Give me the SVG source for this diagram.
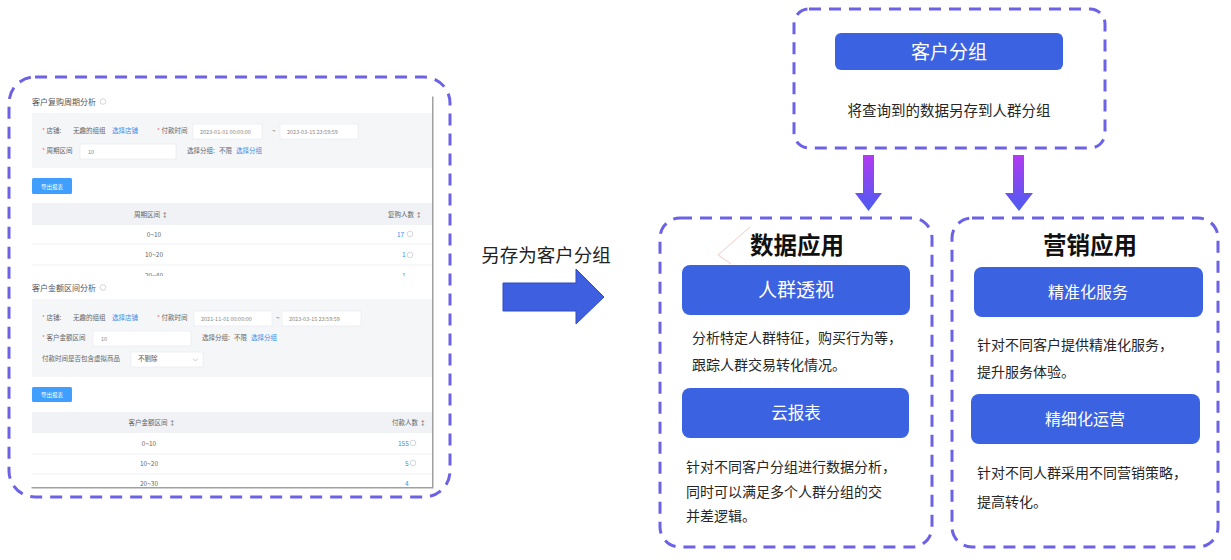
<svg xmlns="http://www.w3.org/2000/svg" width="1231" height="560" viewBox="0 0 1231 560">
<style>
.dash{fill:none;stroke:#6c62e6;stroke-width:3;stroke-dasharray:12 8;}
.btn{fill:#3b62e0;}
.btxt{fill:#ffffff;font-family:"Noto Sans CJK SC","Noto Sans",sans-serif;text-anchor:middle;}
.desc{fill:#262626;font-family:"Noto Sans CJK SC","Noto Sans",sans-serif;font-size:14px;}
.ttl{fill:#111;font-family:"Noto Sans CJK SC","Noto Sans",sans-serif;font-size:23.5px;font-weight:bold;text-anchor:middle;}
.s{font-family:"Noto Sans CJK SC","Noto Sans",sans-serif;font-size:6.5px;fill:#666;}
.sh{font-family:"Noto Sans CJK SC","Noto Sans",sans-serif;font-size:8px;fill:#555;}
.sb{fill:#3a8ee6;}
.sr{fill:#f56c6c;}
.si{font-size:5.5px;fill:#888;}
.m{text-anchor:middle;}
.inp{fill:#fff;stroke:#e4e7ed;stroke-width:0.6;}
.pan{fill:#f5f6f8;}
.hdr{fill:#f0f2f5;}
.ln{stroke:#ebeef5;stroke-width:0.8;}
.ic{fill:none;stroke:#c0c4cc;stroke-width:0.7;}
.ebtn{fill:#409eff;}
</style>
<defs>
<linearGradient id="dg" x1="0" y1="0" x2="0" y2="1">
<stop offset="0" stop-color="#b23af2"/>
<stop offset="1" stop-color="#4a5cf0"/>
</linearGradient>
<clipPath id="c1"><rect x="30" y="95" width="402" height="181"/></clipPath>
<clipPath id="c2"><rect x="30" y="276" width="402" height="211"/></clipPath>
</defs>

<g id="screenshot-panel">
<rect class="dash" x="9" y="77" width="441" height="420" rx="26"/>
<rect x="31.5" y="96.5" width="402" height="392" fill="#a0a0a0"/>
<rect x="30" y="95" width="402" height="392" fill="#ffffff"/>
<g clip-path="url(#c1)">
<text class="sh" x="32" y="104.5">客户复购周期分析</text>
<circle class="ic" cx="103" cy="101.5" r="2.8"/>
<rect class="pan" x="32" y="113" width="400" height="55"/>
<text class="s" x="42" y="133"><tspan class="sr">*</tspan> 店铺:</text>
<text class="s" x="73" y="133">无趣的组组</text>
<text class="s sb" x="112" y="133">选择店铺</text>
<text class="s" x="157" y="133"><tspan class="sr">*</tspan> 付款时间</text>
<rect class="inp" x="193" y="124" width="69" height="15"/>
<text class="s si" x="200" y="133.5">2023-01-01 00:00:00</text>
<text class="s" x="272" y="133">~</text>
<rect class="inp" x="280" y="124" width="78" height="15"/>
<text class="s si" x="287" y="133.5">2023-03-15 23:59:59</text>
<text class="s" x="42" y="153"><tspan class="sr">*</tspan> 周期区间</text>
<rect class="inp" x="80" y="144" width="96" height="15"/>
<text class="s si" x="88" y="153.5">10</text>
<text class="s" x="187" y="153">选择分组:</text>
<text class="s" x="219" y="153">不限</text>
<text class="s sb" x="236" y="153">选择分组</text>
<rect class="ebtn" x="32" y="178" width="40" height="16" rx="1.5"/>
<text class="s m" x="52" y="188.5" style="fill:#fff;font-size:5.5px">导出报表</text>
<rect class="hdr" x="32" y="203" width="400" height="22"/>
<text class="s m" x="151" y="216.5">周期区间 ↕</text>
<text class="s" x="388" y="216.5">复购人数 ↕</text>
<line class="ln" x1="32" y1="244" x2="432" y2="244"/>
<line class="ln" x1="32" y1="265" x2="432" y2="265"/>
<text class="s m" x="154" y="236.5">0~10</text>
<text class="s sb" x="397" y="236.5">17</text>
<circle class="ic" cx="410" cy="234" r="2.8"/>
<text class="s m" x="154" y="257">10~20</text>
<text class="s sb" x="402" y="257">1</text>
<circle class="ic" cx="410" cy="255" r="2.8"/>
<text class="s m" x="154" y="277.5">20~40</text>
<text class="s sb" x="402" y="277.5">1</text>
</g>
<g clip-path="url(#c2)">
<text class="sh" x="32" y="290.5">客户金额区间分析</text>
<circle class="ic" cx="103" cy="287.5" r="2.8"/>
<rect class="pan" x="32" y="299" width="400" height="78"/>
<text class="s" x="42" y="320"><tspan class="sr">*</tspan> 店铺:</text>
<text class="s" x="73" y="320">无趣的组组</text>
<text class="s sb" x="112" y="320">选择店铺</text>
<text class="s" x="157" y="320"><tspan class="sr">*</tspan> 付款时间</text>
<rect class="inp" x="194" y="311" width="78" height="15"/>
<text class="s si" x="201" y="320.5">2021-11-01 00:00:00</text>
<text class="s" x="276" y="320">~</text>
<rect class="inp" x="282" y="311" width="79" height="15"/>
<text class="s si" x="289" y="320.5">2023-03-15 23:59:59</text>
<text class="s" x="42" y="340"><tspan class="sr">*</tspan> 客户金额区间</text>
<rect class="inp" x="93" y="331" width="98" height="15"/>
<text class="s si" x="101" y="340.5">10</text>
<text class="s" x="202" y="340">选择分组:</text>
<text class="s" x="234" y="340">不限</text>
<text class="s sb" x="251" y="340">选择分组</text>
<text class="s" x="42" y="361">付款时间是否包含虚拟商品</text>
<rect class="inp" x="131" y="352" width="72" height="15"/>
<text class="s" x="138" y="361" style="fill:#555">不剔除</text>
<polyline points="193,358.5 195.5,361 198,358.5" fill="none" stroke="#aaa" stroke-width="0.6"/>
<rect class="ebtn" x="32" y="387" width="40" height="15" rx="1.5"/>
<text class="s m" x="52" y="397" style="fill:#fff;font-size:5.5px">导出报表</text>
<rect class="hdr" x="32" y="412" width="400" height="21"/>
<text class="s m" x="152" y="425">客户金额区间 ↕</text>
<text class="s" x="392" y="425">付款人数 ↕</text>
<line class="ln" x1="32" y1="454" x2="432" y2="454"/>
<line class="ln" x1="32" y1="474" x2="432" y2="474"/>
<text class="s m" x="149" y="445.5">0~10</text>
<text class="s sb" x="398" y="445.5">155</text>
<circle class="ic" cx="413" cy="443" r="2.8"/>
<text class="s m" x="149" y="465.5">10~20</text>
<text class="s sb" x="405" y="465.5">5</text>
<circle class="ic" cx="413" cy="463" r="2.8"/>
<text class="s m" x="149" y="486">20~30</text>
<text class="s sb" x="405" y="486">4</text>
</g>
</g>

<g id="save-label">
<text x="546" y="262" style="font-family:'Noto Sans CJK SC','Noto Sans',sans-serif;font-size:18.5px;fill:#222;" text-anchor="middle">另存为客户分组</text>
</g>

<g id="connectors">
<polygon points="503,283 576,283 576,269 604,297 576,324 576,311 503,311" fill="#3e5fe0" stroke="#2e4cc4" stroke-width="1"/>
<polygon points="863,155 874,155 874,193 882,193 868.5,211 855,193 863,193" fill="url(#dg)"/>
<polygon points="1013,155 1024,155 1024,193 1033,193 1019,211 1005,193 1013,193" fill="url(#dg)"/>
</g>

<g id="customer-group">
<rect class="dash" x="794" y="9" width="311" height="139" rx="15"/>
<rect class="btn" x="835" y="33" width="228" height="37" rx="6"/>
<text class="btxt" x="949" y="58.5" font-size="19">客户分组</text>
<text class="desc" x="949" y="116" text-anchor="middle" style="font-size:14.5px">将查询到的数据另存到人群分组</text>
</g>

<g id="data-application">
<rect class="dash" x="660" y="218" width="272" height="329" rx="20"/>
<polyline points="750,227 718,255 731,264" fill="none" stroke="#f3caca" stroke-width="1"/>
<text class="ttl" x="797" y="253.5">数据应用</text>
<g id="crowd-insight">
<rect class="btn" x="682" y="265" width="228" height="50" rx="8"/>
<text class="btxt" x="796" y="297" font-size="19">人群透视</text>
</g>
<text class="desc" x="692" y="343">分析特定人群特征，购买行为等，</text>
<text class="desc" x="692" y="370">跟踪人群交易转化情况。</text>
<g id="cloud-report">
<rect class="btn" x="682" y="388" width="227" height="50" rx="8"/>
<text class="btxt" x="796" y="419" font-size="16.5">云报表</text>
</g>
<text class="desc" x="686" y="472">针对不同客户分组进行数据分析，</text>
<text class="desc" x="686" y="497">同时可以满足多个人群分组的交</text>
<text class="desc" x="686" y="521">并差逻辑。</text>
</g>

<g id="marketing-application">
<rect class="dash" x="952" y="218" width="266" height="329" rx="20"/>
<text class="ttl" x="1090" y="253.5">营销应用</text>
<g id="precise-service">
<rect class="btn" x="974" y="267" width="229" height="50" rx="8"/>
<text class="btxt" x="1088" y="298" font-size="16">精准化服务</text>
</g>
<text class="desc" x="977" y="350">针对不同客户提供精准化服务，</text>
<text class="desc" x="977" y="377">提升服务体验。</text>
<g id="fine-operation">
<rect class="btn" x="971" y="394" width="229" height="50" rx="8"/>
<text class="btxt" x="1085" y="425" font-size="16">精细化运营</text>
</g>
<text class="desc" x="977" y="478">针对不同人群采用不同营销策略，</text>
<text class="desc" x="977" y="507">提高转化。</text>
</g>
</svg>
